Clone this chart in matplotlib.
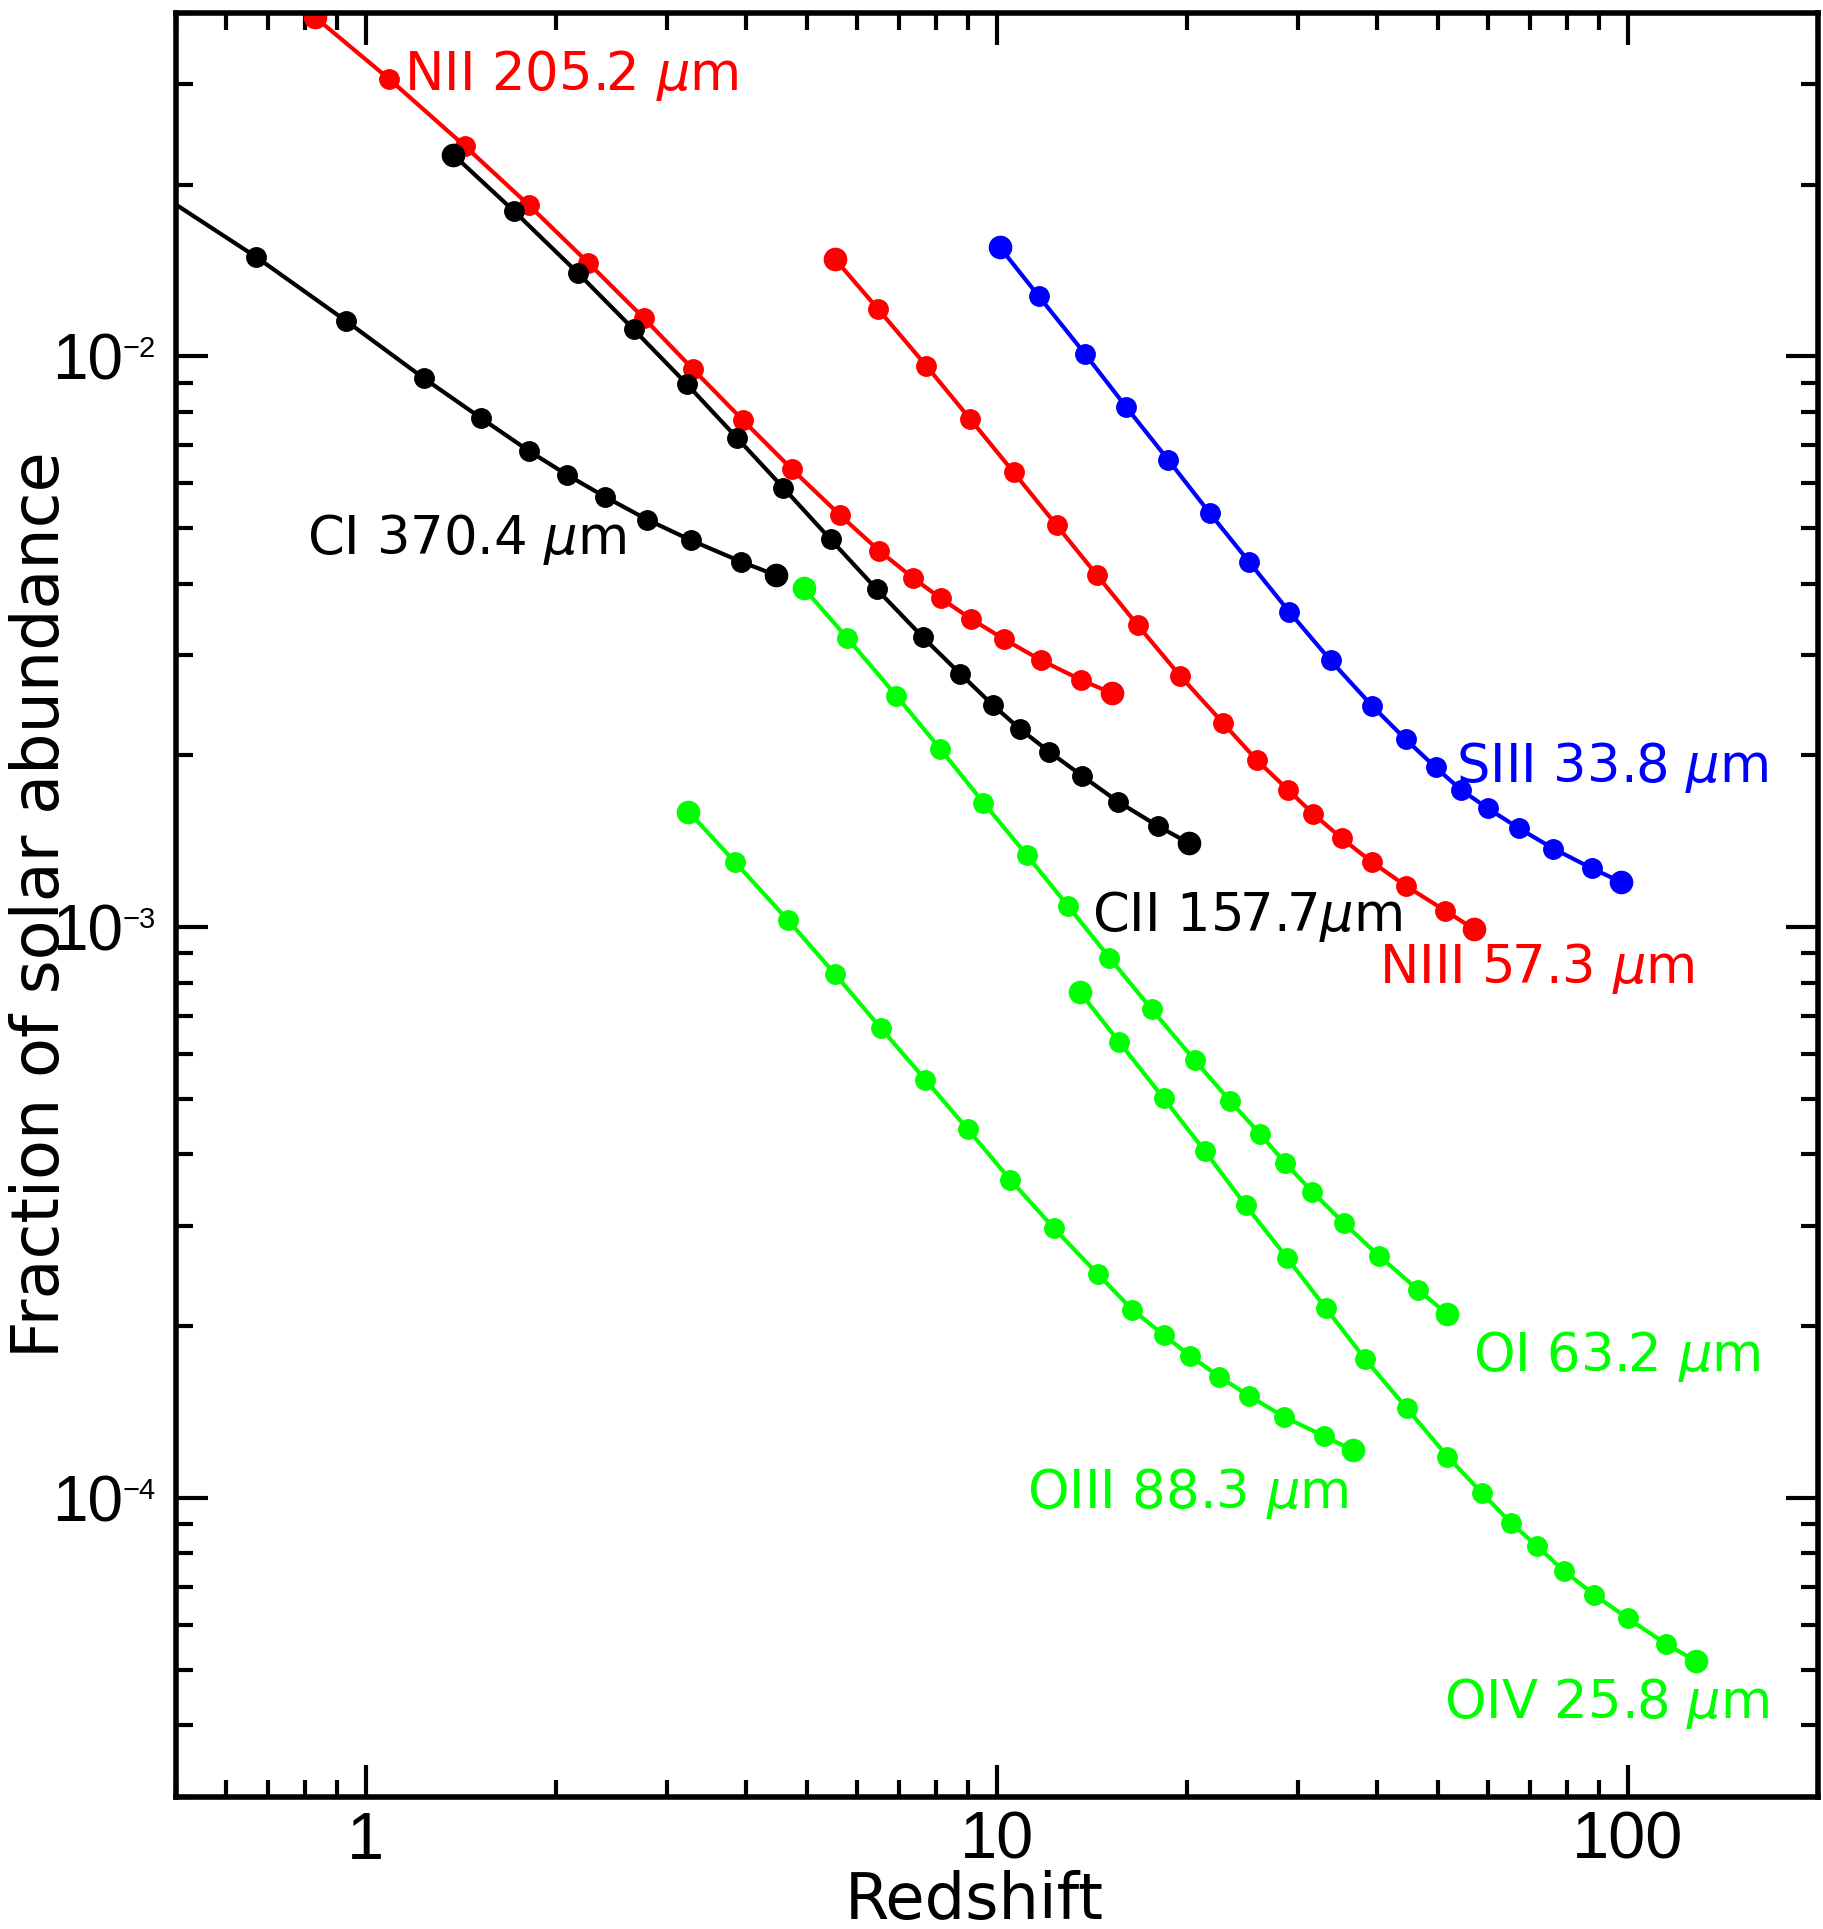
import numpy as np
import matplotlib
matplotlib.use("Agg")
import matplotlib.pyplot as plt
from matplotlib.transforms import offset_copy

plt.rcParams['font.family'] = ['DejaVu Sans']
plt.rcParams['mathtext.fontset'] = 'dejavusans'

# CI 370.4 um (first point lies left of the axis, line is clipped)
ci_z = [0.45, 0.669, 0.930, 1.235, 1.524, 1.813, 2.080, 2.391, 2.790, 3.280, 3.932, 4.460]
ci_f = [0.0199, 0.01495, 0.01154, 0.00916, 0.00779, 0.00683, 0.00621, 0.00568,
        0.00518, 0.00476, 0.00437, 0.00414]

# NII 205.2 um
nii_z = [0.831, 1.089, 1.435, 1.813, 2.252, 2.760, 3.301, 3.960, 4.737, 5.646,
         6.505, 7.37, 8.15, 9.10, 10.25, 11.73, 13.62, 15.23]
nii_f = [0.03927, 0.0306, 0.02336, 0.01840, 0.01458, 0.01166, 0.00949, 0.00773,
         0.00634, 0.00527, 0.00457, 0.00409, 0.00377, 0.00347, 0.00320, 0.00294,
         0.00271, 0.00257]

# CII 157.7 um
cii_z = [1.376, 1.716, 2.169, 2.657, 3.224, 3.878, 4.586, 5.453, 6.451, 7.64,
         8.75, 9.86, 10.87, 12.11, 13.64, 15.56, 18.03, 20.14]
cii_f = [0.02255, 0.01798, 0.01399, 0.01115, 0.00895, 0.00719, 0.00589, 0.00478,
         0.00391, 0.00322, 0.00278, 0.00245, 0.002228, 0.00203, 0.001843, 0.00166,
         0.001503, 0.001405]

# NIII 57.3 um
niii_z = [5.537, 6.477, 7.73, 9.08, 10.63, 12.44, 14.41, 16.73, 19.51, 22.83,
          25.82, 28.96, 31.76, 35.2, 39.28, 44.6, 51.4, 56.98]
niii_f = [0.01482, 0.01212, 0.00963, 0.00776, 0.00627, 0.00506, 0.00414, 0.00338,
          0.00276, 0.00228, 0.001963, 0.00174, 0.001579, 0.001432, 0.001302,
          0.00118, 0.001069, 0.000994]

# SIII 33.8 um
siii_z = [10.10, 11.66, 13.79, 16.04, 18.71, 21.74, 25.11, 29.05, 33.8, 39.34,
          44.46, 49.6, 54.4, 60.0, 67.3, 76.2, 87.8, 97.7]
siii_f = [0.01556, 0.01274, 0.01011, 0.00815, 0.00658, 0.00532, 0.004367, 0.003574,
          0.002934, 0.002443, 0.002135, 0.001906, 0.001742, 0.001616, 0.00149,
          0.001374, 0.001268, 0.0012]

# OI 63.2 um
oi_z = [4.943, 5.790, 6.927, 8.136, 9.52, 11.17, 12.96, 15.08, 17.60, 20.59,
        23.40, 26.11, 28.61, 31.65, 35.52, 40.29, 46.56, 51.8]
oi_f = [0.003926, 0.003214, 0.002547, 0.002053, 0.001654, 0.001336, 0.00109,
        0.000885, 0.000718, 0.000585, 0.000497, 0.000435, 0.000387, 0.000344,
        0.000303, 0.000266, 0.0002316, 0.00021]

# OIII 88.3 um
oiii_z = [3.245, 3.851, 4.670, 5.541, 6.547, 7.70, 8.99, 10.51, 12.32, 14.45,
          16.39, 18.42, 20.27, 22.53, 25.13, 28.50, 32.98, 36.66]
oiii_f = [0.001595, 0.001299, 0.001028, 0.000828, 0.000666, 0.000541, 0.000443,
          0.000361, 0.000297, 0.000247, 0.000214, 0.0001928, 0.0001774, 0.0001632,
          0.000151, 0.0001389, 0.0001285, 0.0001214]

# OIV 25.8 um
oiv_z = [13.54, 15.64, 18.38, 21.39, 24.79, 28.83, 33.25, 38.31, 44.63, 51.8,
         58.75, 65.38, 71.85, 79.2, 88.4, 100.0, 115.2, 128.4]
oiv_f = [0.00077, 0.000629, 0.000502, 0.000405, 0.000326, 0.0002638, 0.000215,
         0.0001755, 0.0001438, 0.0001183, 0.0001021, 9.04e-5, 8.24e-5, 7.46e-5,
         6.78e-5, 6.16e-5, 5.55e-5, 5.18e-5]

series = [
    (ci_z, ci_f, 'black'),
    (nii_z, nii_f, 'red'),
    (cii_z, cii_f, 'black'),
    (niii_z, niii_f, 'red'),
    (siii_z, siii_f, 'blue'),
    (oi_z, oi_f, '#00ff00'),
    (oiii_z, oiii_f, '#00ff00'),
    (oiv_z, oiv_f, '#00ff00'),
]

# label text, anchor (z, fraction), colour
labels = [
    (r'NII 205.2 $\mu$m', 1.147, 0.0293, 'red'),
    (r'CI 370.4 $\mu$m', 0.806, 0.00450, 'black'),
    (r'CII 157.7$\mu$m', 14.15, 0.000984, 'black'),
    (r'NIII 57.3 $\mu$m', 40.3, 0.000799, 'red'),
    (r'SIII 33.8 $\mu$m', 53.4, 0.00180, 'blue'),
    (r'OI 63.2 $\mu$m', 56.9, 0.0001667, '#00ff00'),
    (r'OIII 88.3 $\mu$m', 11.17, 9.6e-5, '#00ff00'),
    (r'OIV 25.8 $\mu$m', 51.2, 4.12e-5, '#00ff00'),
]

xticks = [1, 10, 100]
xticklabels = ['1', '10', '100']
yticks = [1e-4, 1e-3, 1e-2]
yexps = ['\u22124', '\u22123', '\u22122']

fig = plt.figure(figsize=(18.24, 19.29), dpi=100)
ax = fig.add_axes([0.0965, 0.0686, 0.9000, 0.9248])

for z, f, c in series:
    ax.plot(z, f, '-o', color=c, lw=3, ms=14, mec=c, mfc=c)
    ax.plot([z[0], z[-1]], [f[0], f[-1]], 'o', color=c, ms=16)

for txt, xz, yf, c in labels:
    ax.text(xz, yf, txt, color=c, fontsize=38, ha='left', va='baseline')

ax.set_xscale('log')
ax.set_yscale('log')
ax.set_xlim(0.5, 200)
ax.set_ylim(3e-5, 0.04)

ax.set_xticks(xticks)
ax.set_xticklabels(xticklabels)
ax.set_yticks(yticks)
ax.set_yticklabels(['10'] * len(yticks))
ax.yaxis.set_minor_formatter(plt.NullFormatter())

for lab in ax.get_xticklabels():
    lab.set_family(['Liberation Sans', 'DejaVu Sans'])
    lab.set_fontsize(48)
for lab in ax.get_yticklabels():
    lab.set_family(['Liberation Sans', 'DejaVu Sans'])
    lab.set_fontsize(46)

for s in ax.spines.values():
    s.set_linewidth(4)

ax.tick_params(which='both', direction='in', top=True, right=True, width=3)
ax.tick_params(which='major', length=23)
ax.tick_params(which='minor', length=12)
ax.tick_params(axis='x', which='major', pad=10)
ax.tick_params(axis='y', which='major', pad=38)

# small exponents next to the "10" tick labels
exp_trans = offset_copy(ax.get_yaxis_transform(), fig=fig, x=-53, y=21, units='dots')
for yv, e in zip(yticks, yexps):
    ax.text(0, yv, e, transform=exp_trans, ha='left', va='top', fontsize=21,
            family=['Liberation Sans', 'DejaVu Sans'], clip_on=False)

ax.set_xlabel('Redshift', fontsize=46)
ax.set_ylabel('Fraction of solar abundance', fontsize=47)
ax.xaxis.set_label_coords(0.486, -0.041)
ax.yaxis.set_label_coords(-0.063, 0.5)

fig.savefig('out.png', dpi=100)
